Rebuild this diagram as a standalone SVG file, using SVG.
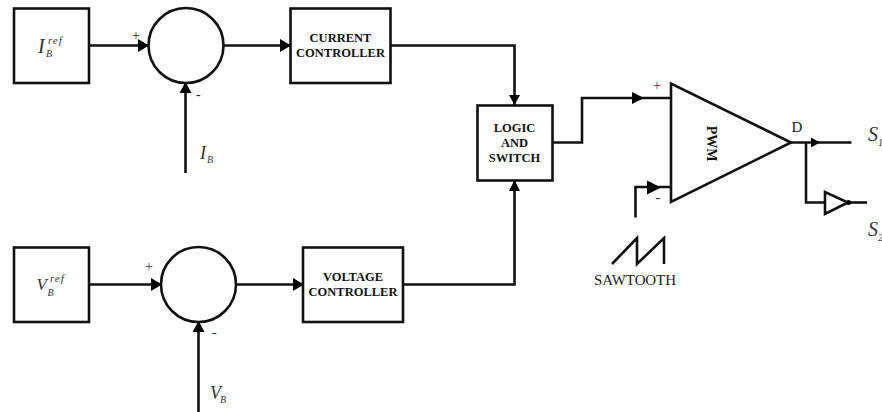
<svg xmlns="http://www.w3.org/2000/svg" width="882" height="412" viewBox="0 0 882 412">
<defs>
<style>
.b{fill:#fff;stroke:#111;stroke-width:2.6}
.c{fill:none;stroke:#111;stroke-width:2.6}
.t{font-family:"Liberation Serif",serif;font-weight:bold;font-size:12.5px;fill:#111;text-anchor:middle}
.i{font-family:"Liberation Serif",serif;font-style:italic;fill:#333}
.s{font-family:"Liberation Serif",serif;font-size:14px;fill:#222}
.p{fill:#602050}
.a{fill:#000}
</style>
</defs>
<rect width="882" height="412" fill="#fff"/>
<g id="connectors">
<path class="c" d="M89 45.500H148"/><path class="a" d="M138 39L149 45.500L138 52Z"/>
<path class="c" d="M185.500 173V82"/><path class="a" d="M179.500 93L185.500 82L191.500 93Z"/>
<path class="c" d="M224 45.500H291"/><path class="a" d="M280 39L291 45.500L280 52Z"/>
<path class="c" d="M390 45.500H514.500V105"/><path class="a" d="M509 95L514.500 105L520 95Z"/>
<path class="c" d="M89 284.500H161"/><path class="a" d="M151 278L162 284.500L151 291Z"/>
<path class="c" d="M198.500 412V321"/><path class="a" d="M192.500 332L198.500 321L204.500 332Z"/>
<path class="c" d="M236 284.500H303"/><path class="a" d="M293 278L304 284.500L293 291Z"/>
<path class="c" d="M402 284.500H514.500V181"/><path class="a" d="M509 191L514.500 180L520 191Z"/>
<path class="c" d="M552 142.500H582V98H671"/><path class="a" d="M632 92L644 98L632 104Z"/>
<path class="c" d="M635.500 217.500V187H671"/><path class="a" d="M647 180.500L661 187.500L647 194.500Z"/>
<path class="c" d="M791 142.500H851.500"/><path class="a" d="M811 137.500L820 142.500L811 147.500Z"/>
<path class="c" d="M806 142.500V202.500H825"/>
<path class="c" d="M848 202.500H867"/>
<path class="c" d="M612 264L637 238V264L664 238V264"/>
</g>
<g id="node-iref"><rect class="b" x="14" y="8.500" width="75" height="74.500"/>
<text class="i" x="38" y="53" font-size="20">I</text><text class="i" x="46" y="57" font-size="10">B</text><text class="i" x="48" y="43.500" font-size="11" letter-spacing="1">ref</text></g>
<g id="node-sum1"><circle class="b" cx="186" cy="45.500" r="37.500"/>
<text class="s" x="132" y="40">+</text><text class="s" x="196" y="99">-</text></g>
<g id="node-ib"><text class="i" x="200" y="159" font-size="18">I</text><text class="i" x="207" y="162.500" font-size="10">B</text></g>
<g id="node-current"><rect class="b" x="290.500" y="8.500" width="100" height="74.500"/>
<text class="t" x="340.500" y="42">CURRENT</text><text class="t" x="340.500" y="57">CONTROLLER</text></g>
<g id="node-logic"><rect class="b" x="477.500" y="105.500" width="75" height="75"/>
<text class="t" x="514.500" y="131.500">LOGIC</text><text class="t" x="514.500" y="146.500">AND</text><text class="t" x="514.500" y="162">SWITCH</text></g>
<g id="node-vref"><rect class="b" x="14" y="247.500" width="75" height="74.500"/>
<text class="i" x="36.500" y="289.500" font-size="17">V</text><text class="i" x="47.500" y="295.500" font-size="10">B</text><text class="i" x="50" y="282" font-size="11" letter-spacing="1">ref</text></g>
<g id="node-sum2"><circle class="b" cx="198.500" cy="284.500" r="37.500"/>
<text class="s p" x="145" y="271">+</text><text class="s" x="212" y="337">-</text></g>
<g id="node-vb"><text class="i" x="210" y="399" font-size="18">V</text><text class="i" x="220" y="403" font-size="10">B</text></g>
<g id="node-voltage"><rect class="b" x="303" y="247.500" width="100" height="74.500"/>
<text class="t" x="353" y="281">VOLTAGE</text><text class="t" x="353" y="296">CONTROLLER</text></g>
<g id="node-pwm"><path class="b" d="M671 83.500V202L791 142.500Z"/>
<text class="t" transform="translate(707 143.500) rotate(90)" style="font-size:14px">PWM</text>
<text class="s p" x="653" y="90">+</text><text class="s" x="655.500" y="202">-</text>
<text class="s" x="791.500" y="132" style="font-size:15px">D</text></g>
<g id="node-not"><path class="b" d="M825 192V214L848 202.500Z"/><circle class="a" cx="848.500" cy="202.500" r="2.500"/></g>
<g id="label-s1"><text class="i" x="868" y="141" font-size="20">S</text><text class="i" x="878" y="146" font-size="10">1</text></g>
<g id="label-s2"><text class="i" x="868" y="236" font-size="20">S</text><text class="i" x="878" y="241" font-size="10">2</text></g>
<g id="label-saw"><text class="s" x="594" y="285" style="font-size:15px" textLength="82">SAWTOOTH</text></g>
</svg>
